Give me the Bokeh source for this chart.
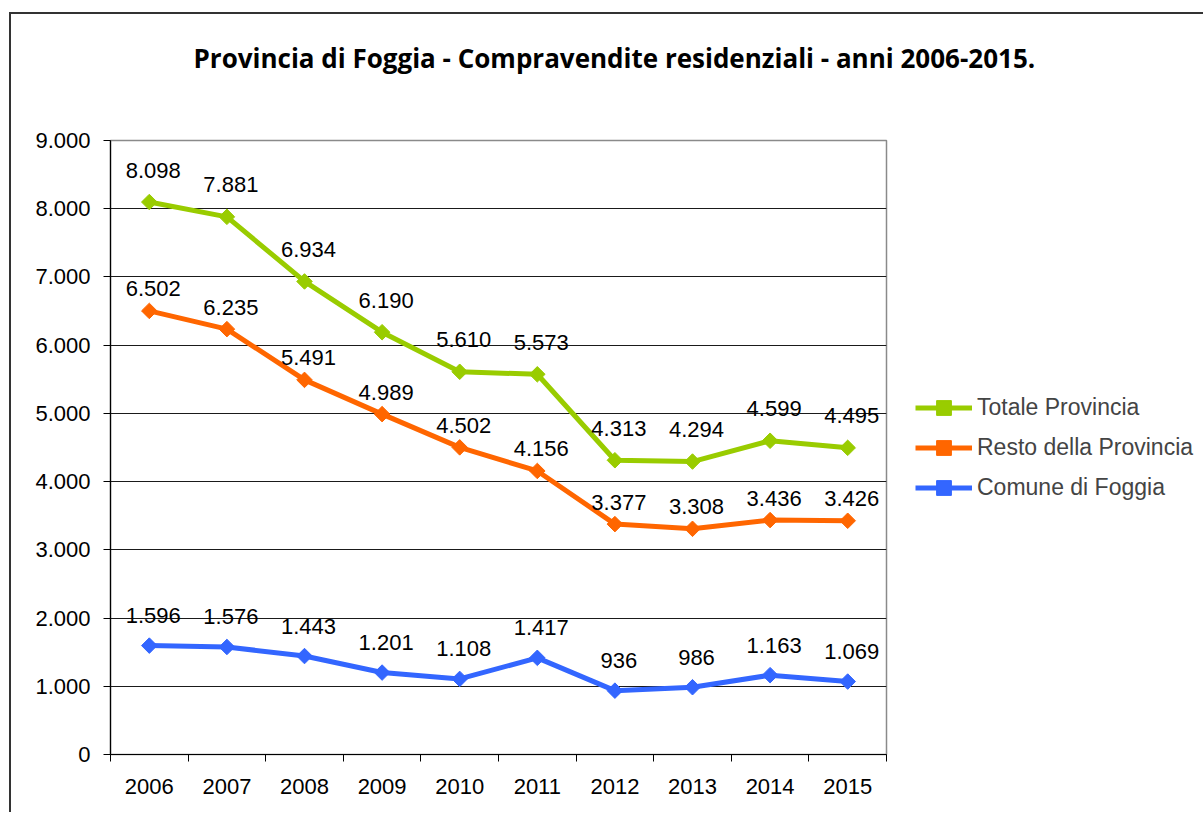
import numpy as np
from bokeh.plotting import figure
from bokeh.models import (Range1d, FixedTicker, Legend, LegendItem, Title,
                          ColumnDataSource)
from bokeh.embed import file_html
from bokeh.resources import INLINE

# ---- data ----
years = ["2006", "2007", "2008", "2009", "2010", "2011", "2012", "2013", "2014", "2015"]
totale_provincia = [8098, 7881, 6934, 6190, 5610, 5573, 4313, 4294, 4599, 4495]
resto_provincia = [6502, 6235, 5491, 4989, 4502, 4156, 3377, 3308, 3436, 3426]
comune_foggia = [1596, 1576, 1443, 1201, 1108, 1417, 936, 986, 1163, 1069]
y_ticks = [0, 1000, 2000, 3000, 4000, 5000, 6000, 7000, 8000, 9000]
title_text = "Provincia di Foggia - Compravendite residenziali - anni 2006-2015."


def it_fmt(v):
    return f"{v:,}".replace(",", ".")


xpos = list(range(1, len(years) + 1))

p = figure(frame_width=776, frame_height=614, output_backend="svg",
           toolbar_location=None,
           x_range=Range1d(0.5, len(years) + 0.5), y_range=Range1d(0, 9000),
           min_border_left=99, min_border_top=126, min_border_right=10,
           min_border_bottom=58, title=title_text)
p.styles = {"margin-left": "9px", "margin-top": "12px",
            "border-left": "2px solid #333333", "border-top": "2px solid #333333"}
p.background_fill_color = "white"
p.border_fill_color = "white"
p.outline_line_color = "#8a8a8a"
p.outline_line_width = 1.5

p.title.align = "left"
p.title.offset = 83
p.title.standoff = 0
p.title.text_font = "Open Sans"
p.title.text_font_style = "bold"
p.title.text_font_size = "26px"
p.title.text_color = "black"
# empty spacer between the title and the plot area
p.add_layout(Title(text=" ", text_font_size="10px", standoff=52), "above")

# axes
FONT = "Liberation Sans"
p.yaxis.ticker = FixedTicker(ticks=y_ticks)
p.yaxis.major_label_overrides = {t: it_fmt(t) for t in y_ticks}
p.yaxis.major_tick_out = 7
p.yaxis.major_tick_in = 0
p.yaxis.minor_tick_out = 0
p.yaxis.minor_tick_in = 0
p.yaxis.major_label_standoff = 13
p.xaxis.ticker = FixedTicker(ticks=xpos,
                             minor_ticks=[i + 0.5 for i in range(0, len(years) + 1)])
p.xaxis.major_label_overrides = {x: y for x, y in zip(xpos, years)}
p.xaxis.major_tick_out = 0
p.xaxis.major_tick_in = 0
p.xaxis.minor_tick_out = 7
p.xaxis.minor_tick_in = 0
p.xaxis.major_label_standoff = 17
for ax in (p.xaxis, p.yaxis):
    ax.axis_line_color = "black"
    ax.axis_line_width = 1.2
    ax.major_tick_line_color = "black"
    ax.minor_tick_line_color = "black"
    ax.major_label_text_font = FONT
    ax.major_label_text_font_size = "22px"
    ax.major_label_text_color = "black"

p.xgrid.grid_line_color = None
p.ygrid.ticker = FixedTicker(ticks=y_ticks[1:-1])
p.ygrid.grid_line_color = "#1a1a1a"
p.ygrid.grid_line_width = 1

series = [
    ("Totale Provincia", totale_provincia, "#99CC00", 32),
    ("Resto della Provincia", resto_provincia, "#FF6600", 22),
    ("Comune di Foggia", comune_foggia, "#3366FF", 30),
]

items = []
for name, vals, color, off in series:
    src = ColumnDataSource(dict(x=xpos, y=vals, lab=[it_fmt(v) for v in vals]))
    ln = p.line("x", "y", source=src, line_color=color, line_width=5)
    sc = p.scatter("x", "y", source=src, marker="square", angle=np.pi / 4,
                   size=11, fill_color=color, line_color=color)
    p.text("x", "y", text="lab", source=src, x_offset=4, y_offset=-off,
           text_align="center", text_baseline="middle",
           text_font_size="22px", text_color="black",
           text_font={"value": FONT})
    items.append(LegendItem(label=name, renderers=[ln, sc]))

legend = Legend(items=items, location=(29, 248), glyph_width=57,
                glyph_height=37, label_height=37, spacing=3, padding=0,
                margin=0, border_line_alpha=0, background_fill_alpha=0,
                label_text_font=FONT, label_text_font_size="23px",
                label_standoff=5)
p.add_layout(legend, "right")

open("out.html", "w").write(file_html(p, INLINE))
